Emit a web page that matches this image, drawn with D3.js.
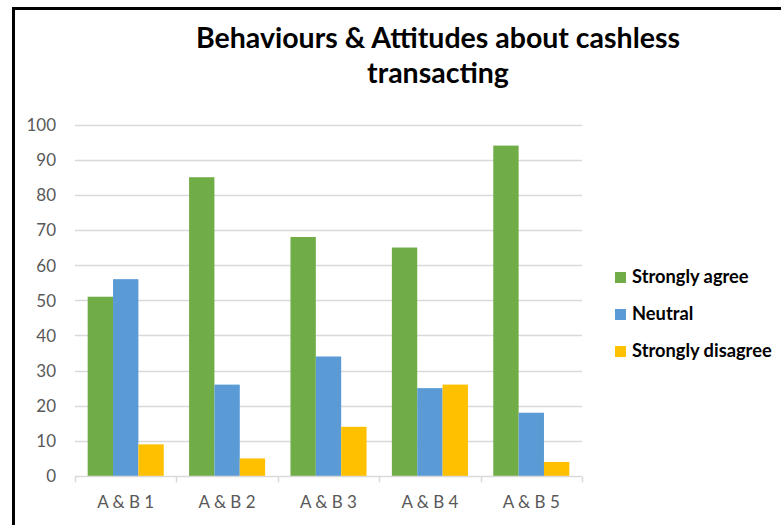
<!DOCTYPE html>
<html>
<head>
<meta charset="utf-8">
<script src="https://cdn.jsdelivr.net/npm/d3@7"></script>
<style>
  html, body { margin: 0; padding: 0; background: #fff; }
  svg { display: block; }
</style>
</head>
<body>
<svg id="chart" width="781" height="525"></svg>
<script>
// Chart data
const categories = ["A & B 1", "A & B 2", "A & B 3", "A & B 4", "A & B 5"];
const seriesNames = ["Strongly agree", "Neutral", "Strongly disagree"];
const stronglyAgree = [51, 85, 68, 65, 94];
const neutral = [56, 26, 34, 25, 18];
const stronglyDisagree = [9, 5, 14, 26, 4];
const seriesColors = ["#70AD47", "#5B9BD5", "#FFC000"];
const yTicks = [0, 10, 20, 30, 40, 50, 60, 70, 80, 90, 100];
const titleLines = ["Behaviours & Attitudes about cashless", "transacting"];

const seriesValues = [stronglyAgree, neutral, stronglyDisagree];
const rows = categories.map((c, i) => ({
  category: c,
  values: seriesNames.map((s, j) => ({ series: s, value: seriesValues[j][i] }))
}));

const svg = d3.select("#chart");
const font = "Lato, 'Open Sans', sans-serif";
const textGray = "#595959";

// frame lines along the top and left edges
svg.append("rect").attr("x", 12).attr("y", 7).attr("width", 781).attr("height", 3).attr("fill", "#000");
svg.append("rect").attr("x", 12).attr("y", 7).attr("width", 3).attr("height", 525).attr("fill", "#000");

const plot = { left: 75, right: 582, top: 124.5, bottom: 476 };

const x = d3.scaleBand().domain(categories).range([plot.left, plot.right]).paddingInner(0).paddingOuter(0);
const gap = x.bandwidth() * 0.125;
const xSub = d3.scaleBand().domain(seriesNames).range([gap, x.bandwidth() - gap]).padding(0);
const y = d3.scaleLinear().domain([0, 100]).range([plot.bottom, plot.top]);

// horizontal gridlines
svg.append("g")
  .selectAll("line")
  .data(yTicks.filter(t => t > 0))
  .join("line")
  .attr("x1", plot.left).attr("x2", plot.right)
  .attr("y1", d => Math.round(y(d)) + 0.5).attr("y2", d => Math.round(y(d)) + 0.5)
  .attr("stroke", "#D9D9D9").attr("stroke-width", 1.5);

// y axis labels
const yAxis = d3.axisLeft(y).tickValues(yTicks).tickSize(0).tickPadding(0);
const yg = svg.append("g").attr("transform", `translate(56,0)`).call(yAxis);
yg.select(".domain").remove();
yg.selectAll("text")
  .attr("font-family", font).attr("font-size", 17).attr("fill", textGray)
  .attr("dy", "0.35em");

// bars
const groups = svg.append("g")
  .selectAll("g")
  .data(rows)
  .join("g")
  .attr("transform", d => `translate(${x(d.category)},0)`);

groups.selectAll("rect")
  .data(d => d.values)
  .join("rect")
  .attr("x", d => xSub(d.series))
  .attr("width", xSub.bandwidth())
  .attr("y", d => y(d.value))
  .attr("height", d => y(0) - y(d.value))
  .attr("fill", (d, i) => seriesColors[i]);

// x axis with tick marks between categories
const xAxisG = svg.append("g").attr("transform", `translate(0,${Math.round(y(0)) + 0.5})`);
xAxisG.append("line")
  .attr("x1", plot.left).attr("x2", plot.right)
  .attr("stroke", "#D9D9D9").attr("stroke-width", 1.5);
const boundaries = categories.map(c => x(c)).concat([x(categories[categories.length - 1]) + x.bandwidth()]);
xAxisG.selectAll("line.tick")
  .data(boundaries)
  .join("line")
  .attr("class", "tick")
  .attr("x1", d => Math.round(d) + 0.5).attr("x2", d => Math.round(d) + 0.5)
  .attr("y1", 0).attr("y2", 6)
  .attr("stroke", "#D9D9D9").attr("stroke-width", 1.5);
xAxisG.selectAll("text")
  .data(categories)
  .join("text")
  .attr("x", d => x(d) + x.bandwidth() / 2)
  .attr("y", 31.5)
  .attr("text-anchor", "middle")
  .attr("font-family", font).attr("font-size", 17).attr("fill", textGray)
  .text(d => d);

// title
svg.append("g")
  .selectAll("text")
  .data(titleLines)
  .join("text")
  .attr("x", 438)
  .attr("y", (d, i) => 48 + i * 35)
  .attr("text-anchor", "middle")
  .attr("font-family", font).attr("font-weight", "bold").attr("font-size", 28.5).attr("fill", "#000")
  .text(d => d);

// legend
const legend = svg.append("g").attr("transform", "translate(615,272)");
const li = legend.selectAll("g")
  .data(seriesNames)
  .join("g")
  .attr("transform", (d, i) => `translate(0,${i * 37})`);
li.append("rect").attr("width", 11).attr("height", 11).attr("fill", (d, i) => seriesColors[i]);
li.append("text")
  .attr("x", 17).attr("y", 11)
  .attr("font-family", font).attr("font-weight", "bold").attr("font-size", 18.3).attr("fill", "#000")
  .text(d => d);
</script>
</body>
</html>
